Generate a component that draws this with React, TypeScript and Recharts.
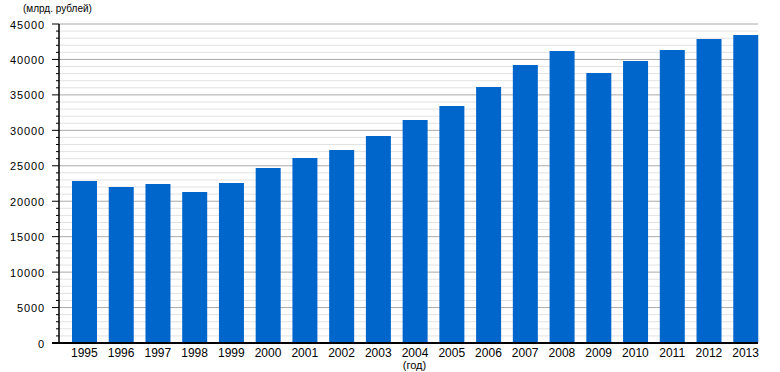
import React from 'react';
import { BarChart, Bar, XAxis, YAxis, CartesianGrid } from 'recharts';

const years = ['1995','1996','1997','1998','1999','2000','2001','2002','2003','2004','2005','2006','2007','2008','2009','2010','2011','2012','2013'];
const gdp = [22850, 22000, 22430, 21300, 22570, 24690, 26100, 27230, 29200, 31460, 33430, 36110, 39220, 41190, 38090, 39780, 41330, 42890, 43450];
const majorTicks = [0, 5000, 10000, 15000, 20000, 25000, 30000, 35000, 40000, 45000];
const minorStep = 1000;
const allTicks: number[] = Array.from({ length: 46 }, (_, i) => i * minorStep);
const minorTicks = allTicks.filter((v) => !majorTicks.includes(v));

const data = years.map((y, i) => ({ year: y, value: gdp[i] }));

const FONT = '"Liberation Sans", Arial, sans-serif';

const YTick = (props: any) => {
  const { x, y, payload } = props;
  const v = payload.value as number;
  const major = majorTicks.includes(v);
  return (
    <g>
      <line x1={x - (major ? 7 : 3)} x2={x} y1={y} y2={y} stroke="#000" strokeWidth={v === 0 ? 2 : 1} />
      {major && (
        <text x={x - 14} y={y} dy={4.5} textAnchor="end" fontSize={11} letterSpacing={0.9} fontFamily={FONT} fill="#000">
          {v}
        </text>
      )}
    </g>
  );
};

const UnitLabel = () => (
  <text x={23} y={12} fontSize={10} fontFamily={FONT} fill="#000">
    (млрд. рублей)
  </text>
);

export default function App() {
  return (
    <div style={{ position: 'absolute', left: 0, top: 0, width: 780, height: 372, background: '#fff' }}>
      <BarChart width={780} height={372} data={data} margin={{ top: 24, right: 22, bottom: 0, left: 0 }} barCategoryGap={0}>
        <CartesianGrid vertical={false} horizontalValues={minorTicks} stroke="#e2e2e2" strokeWidth={1} />
        <CartesianGrid vertical={false} horizontalValues={majorTicks} stroke="#aaaaaa" strokeWidth={1} />
        <XAxis
          dataKey="year"
          interval={0}
          padding={{ left: 7, right: -6 }}
          tickLine={false}
          tickSize={0}
          tickMargin={5}
          height={29}
          axisLine={{ stroke: '#000', strokeWidth: 2 }}
          tick={{ fontSize: 12, fill: '#000', fontFamily: FONT }}
          label={{ value: '(год)', position: 'insideBottom', offset: 3, dx: 6, fontSize: 11, fill: '#000', fontFamily: FONT }}
        />
        <YAxis
          width={59}
          domain={[0, 45000]}
          ticks={allTicks}
          interval={0}
          tickLine={false}
          tickSize={0}
          tickMargin={0}
          axisLine={{ stroke: '#000', strokeWidth: 1.5 }}
          tick={<YTick />}
          label={<UnitLabel />}
        />
        <Bar dataKey="value" fill="#0066cc" barSize={25} isAnimationActive={false} />
      </BarChart>
    </div>
  );
}
